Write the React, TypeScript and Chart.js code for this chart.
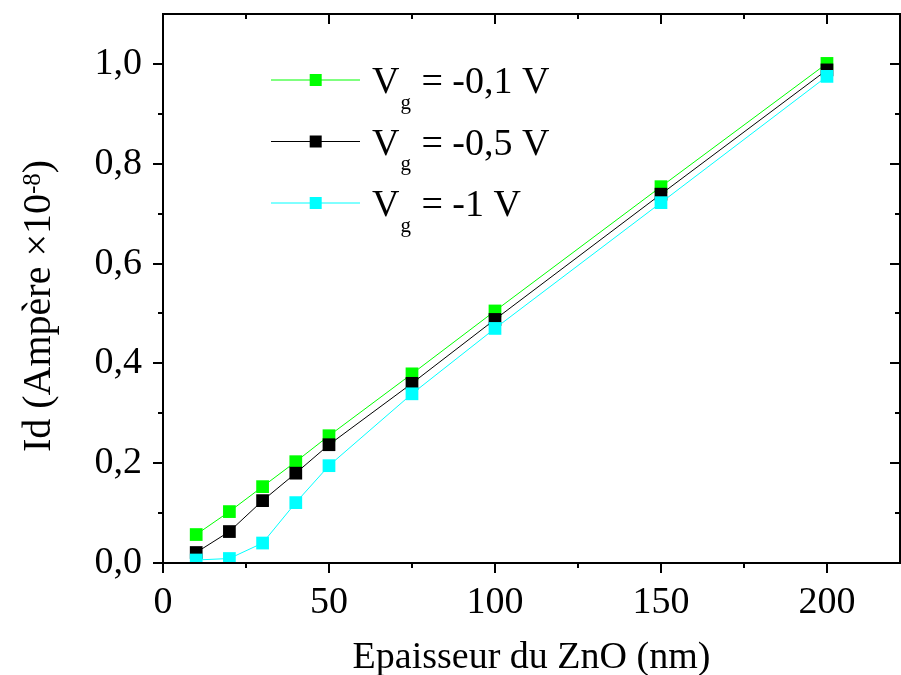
import React, { useEffect, useRef } from "react";
import { Chart, registerables } from "chart.js";

Chart.register(...registerables);

const thickness = [10, 20, 30, 40, 50, 75, 100, 150, 200];
const idVg01 = [0.057, 0.103, 0.153, 0.203, 0.255, 0.379, 0.505, 0.754, 1.001];
const idVg05 = [0.021, 0.063, 0.125, 0.18, 0.237, 0.36, 0.488, 0.739, 0.988];
const idVg1 = [0.006, 0.009, 0.04, 0.121, 0.195, 0.339, 0.47, 0.722, 0.975];

const seriesLabels = ["-0,1 V", "-0,5 V", "-1 V"];
const seriesColors = ["#00ff00", "#000000", "#00ffff"];

const xTicks = [0, 50, 100, 150, 200];
const xMinorTicks = [25, 75, 125, 175];
const yTicks = [0, 0.2, 0.4, 0.6, 0.8, 1.0];
const yMinorTicks = [0.1, 0.3, 0.5, 0.7, 0.9];

const xTitle = "Epaisseur du ZnO (nm)";
const yTitleMain = "Id (Ampère ×10";
const yTitleSup = "-8";
const yTitleEnd = ")";

const FONT = "'Liberation Serif', 'Times New Roman', serif";

const framePlugin = {
  id: "frame",
  afterDatasetsDraw(chart: any) {
    const { ctx, chartArea } = chart;
    const xs = chart.scales.x;
    const ys = chart.scales.y;
    const { left, right, top, bottom } = chartArea;
    ctx.save();
    ctx.strokeStyle = "#000";
    ctx.lineWidth = 2;
    ctx.beginPath();
    ctx.rect(left, top, right - left, bottom - top);
    ctx.stroke();
    const major = 10;
    const minor = 5;
    ctx.beginPath();
    const xt = (v: number, len: number) => {
      const px = Math.round(xs.getPixelForValue(v));
      ctx.moveTo(px, bottom);
      ctx.lineTo(px, bottom + len);
      ctx.moveTo(px, top);
      ctx.lineTo(px, top + len);
    };
    const yt = (v: number, len: number) => {
      const py = Math.round(ys.getPixelForValue(v));
      ctx.moveTo(left, py);
      ctx.lineTo(left - len, py);
      ctx.moveTo(right, py);
      ctx.lineTo(right - len, py);
    };
    xTicks.forEach((v) => xt(v, major));
    xMinorTicks.forEach((v) => xt(v, minor));
    yTicks.forEach((v) => yt(v, major));
    yMinorTicks.forEach((v) => yt(v, minor));
    ctx.stroke();
    ctx.restore();
  },
  afterDraw(chart: any) {
    const { ctx, chartArea } = chart;
    ctx.save();
    ctx.fillStyle = "#000";
    // x title
    ctx.font = `38px ${FONT}`;
    ctx.textAlign = "center";
    ctx.textBaseline = "alphabetic";
    ctx.fillText(xTitle, (chartArea.left + chartArea.right) / 2, 668);

    // y title (rotated)
    const mainFont = `40px ${FONT}`;
    const supFont = `25px ${FONT}`;
    ctx.font = mainFont;
    const wMain = ctx.measureText(yTitleMain).width;
    const wEnd = ctx.measureText(yTitleEnd).width;
    ctx.font = supFont;
    const wSup = ctx.measureText(yTitleSup).width;
    const total = wMain + wSup + wEnd;
    const cy = 306;
    ctx.translate(50, cy);
    ctx.rotate(-Math.PI / 2);
    ctx.textAlign = "left";
    let x0 = -total / 2;
    ctx.font = mainFont;
    ctx.fillText(yTitleMain, x0, 0);
    x0 += wMain;
    ctx.font = supFont;
    ctx.fillText(yTitleSup, x0, -10);
    x0 += wSup;
    ctx.font = mainFont;
    ctx.fillText(yTitleEnd, x0, 0);
    ctx.restore();

    // legend
    ctx.save();
    seriesLabels.forEach((lab, i) => {
      const y = 80 + i * 61.5;
      ctx.strokeStyle = seriesColors[i];
      ctx.lineWidth = 1;
      ctx.beginPath();
      ctx.moveTo(271, y);
      ctx.lineTo(360, y);
      ctx.stroke();
      ctx.fillStyle = seriesColors[i];
      ctx.fillRect(315.7 - 6, y - 6, 12, 12);
      ctx.fillStyle = "#000";
      ctx.textAlign = "left";
      ctx.textBaseline = "alphabetic";
      ctx.font = `38px ${FONT}`;
      let tx = 372;
      ctx.fillText("V", tx, y + 13.3);
      tx += ctx.measureText("V").width + 1;
      ctx.font = `21px ${FONT}`;
      ctx.fillText("g", tx, y + 28.5);
      tx += ctx.measureText("g").width + 1;
      ctx.font = `38px ${FONT}`;
      ctx.fillText(" = " + lab, tx, y + 13.3);
    });
    ctx.restore();
  },
};

export default function App() {
  const ref = useRef<HTMLCanvasElement | null>(null);
  useEffect(() => {
    if (!ref.current) return;
    const mk = (data: number[], i: number, order: number) => ({
      label: seriesLabels[i],
      data: thickness.map((t, k) => ({ x: t, y: data[k] })),
      borderColor: seriesColors[i],
      backgroundColor: seriesColors[i],
      borderWidth: 1,
      pointStyle: "rect",
      pointRadius: 9,
      pointBorderWidth: 0,
      pointBackgroundColor: seriesColors[i],
      pointBorderColor: seriesColors[i],
      tension: 0,
      order,
    });
    const chart = new Chart(ref.current, {
      type: "line",
      data: {
        datasets: [mk(idVg01, 0, 2), mk(idVg05, 1, 1), mk(idVg1, 2, 0)],
      },
      options: {
        animation: false,
        responsive: true,
        maintainAspectRatio: false,
        layout: { autoPadding: false, padding: { top: 14, right: 1, left: 0, bottom: 0 } },
        plugins: { legend: { display: false }, tooltip: { enabled: false } },
        scales: {
          x: {
            type: "linear",
            min: 0,
            max: 222,
            grid: { display: false },
            border: { display: false },
            afterBuildTicks: (s: any) => {
              s.ticks = xTicks.map((v) => ({ value: v }));
            },
            afterFit: (s: any) => {
              s.height = 112;
              s.paddingLeft = 0;
              s.paddingRight = 0;
            },
            ticks: {
              color: "#000",
              font: { family: FONT, size: 38 },
              padding: 9,
              maxRotation: 0,
              callback: (v: any) => String(v),
            },
          },
          y: {
            type: "linear",
            min: 0,
            max: 1.1,
            grid: { display: false },
            border: { display: false },
            afterBuildTicks: (s: any) => {
              s.ticks = yTicks.map((v) => ({ value: v }));
            },
            afterFit: (s: any) => {
              s.width = 163;
              s.paddingTop = 0;
              s.paddingBottom = 0;
            },
            ticks: {
              color: "#000",
              font: { family: FONT, size: 38 },
              padding: 13,
              callback: (v: any) => Number(v).toFixed(1).replace(".", ","),
            },
          },
        },
      },
      plugins: [framePlugin],
    });
    return () => chart.destroy();
  }, []);
  return (
    <div style={{ position: "fixed", left: 0, top: 0, width: 901, height: 675, background: "#fff" }}>
      <canvas ref={ref} />
    </div>
  );
}
